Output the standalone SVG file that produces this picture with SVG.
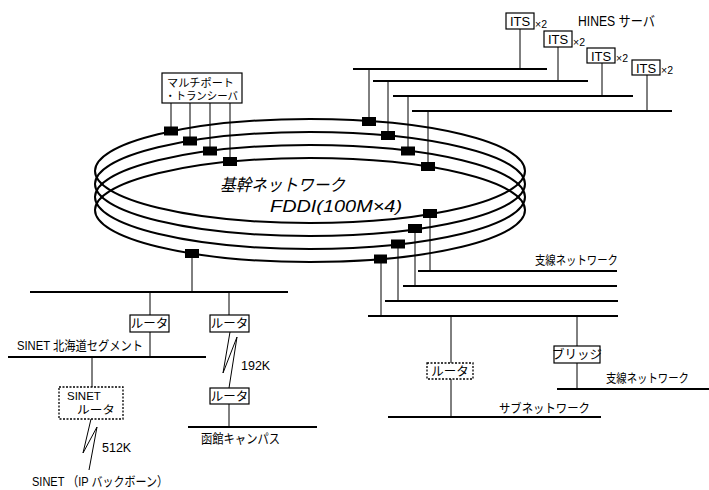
<svg xmlns="http://www.w3.org/2000/svg" width="709" height="490" viewBox="0 0 709 490">
<style>
text{font-family:"Liberation Sans","Noto Sans CJK JP",sans-serif;fill:#000}
.ring{fill:none;stroke:#000;stroke-width:2}
.bus{stroke:#000;stroke-width:2.2;fill:none}
.drop{stroke:#000;stroke-width:1;fill:none}
.tap{fill:#000}
.box{fill:#fff;stroke:#000;stroke-width:1.2}
.dbox{fill:#fff;stroke:#000;stroke-width:1.3;stroke-dasharray:2 1.5}
.lbl{font-size:12.5px}
.its{font-size:13px}
.x2{font-size:10.5px}
.c{text-anchor:middle}
.it{font-style:italic;font-size:17px}
</style>
<rect width="709" height="490" fill="#fff"/>
<g id="backbone">
<ellipse class="ring" cx="310" cy="171" rx="215" ry="52"/>
<ellipse class="ring" cx="310" cy="184" rx="215" ry="52"/>
<ellipse class="ring" cx="310" cy="197" rx="215" ry="52"/>
<ellipse class="ring" cx="310" cy="210" rx="215" ry="52"/>
<text class="it" x="220" y="191" textLength="125" lengthAdjust="spacingAndGlyphs">基幹ネットワーク</text>
<text class="it" x="270" y="212" textLength="132" lengthAdjust="spacingAndGlyphs">FDDI(100M×4)</text>
</g>
<g id="connectors">
<line class="bus" x1="353" y1="69" x2="547" y2="69"/>
<line class="bus" x1="373" y1="81" x2="588" y2="81"/>
<line class="bus" x1="393" y1="96" x2="633" y2="96"/>
<line class="bus" x1="412" y1="111" x2="672" y2="111"/>
<line class="drop" x1="520" y1="29" x2="520" y2="69"/>
<line class="drop" x1="558" y1="47" x2="558" y2="81"/>
<line class="drop" x1="602" y1="63" x2="602" y2="96"/>
<line class="drop" x1="647" y1="75" x2="647" y2="111"/>
<line class="drop" x1="369" y1="69" x2="369" y2="121"/>
<line class="drop" x1="388" y1="81" x2="388" y2="135"/>
<line class="drop" x1="408" y1="96" x2="408" y2="151"/>
<line class="drop" x1="428" y1="111" x2="428" y2="166"/>
<line class="drop" x1="171" y1="103" x2="171" y2="131"/>
<line class="drop" x1="190" y1="103" x2="190" y2="141"/>
<line class="drop" x1="210" y1="103" x2="210" y2="151"/>
<line class="drop" x1="230" y1="103" x2="230" y2="161"/>
<line class="bus" x1="418" y1="271" x2="617" y2="271"/>
<line class="bus" x1="403" y1="286" x2="617" y2="286"/>
<line class="bus" x1="385" y1="301" x2="618" y2="301"/>
<line class="bus" x1="368" y1="316" x2="618" y2="316"/>
<line class="drop" x1="430" y1="213" x2="430" y2="271"/>
<line class="drop" x1="415" y1="228" x2="415" y2="286"/>
<line class="drop" x1="398" y1="244" x2="398" y2="301"/>
<line class="drop" x1="381" y1="259" x2="381" y2="316"/>
<line class="drop" x1="451" y1="316" x2="451" y2="363"/>
<line class="drop" x1="451" y1="379" x2="451" y2="417"/>
<line class="bus" x1="388" y1="417" x2="601" y2="417"/>
<line class="drop" x1="577" y1="316" x2="577" y2="346"/>
<line class="drop" x1="577" y1="363" x2="577" y2="389"/>
<line class="bus" x1="557" y1="389" x2="709" y2="389"/>
<line class="drop" x1="192" y1="253" x2="192" y2="292"/>
<line class="bus" x1="30" y1="292" x2="288" y2="292"/>
<line class="drop" x1="150" y1="292" x2="150" y2="315"/>
<line class="drop" x1="229" y1="292" x2="229" y2="315"/>
<line class="drop" x1="150" y1="332" x2="150" y2="357"/>
<line class="bus" x1="8" y1="357" x2="206" y2="357"/>
<line class="drop" x1="92" y1="357" x2="92" y2="387"/>
<polyline class="drop" points="91,419 83,453 97,427 89,470"/>
<polyline class="drop" points="230,332 223,373 237,337 229,388"/>
<line class="drop" x1="229" y1="404" x2="229" y2="427"/>
<line class="bus" x1="188" y1="427" x2="317" y2="427"/>
</g>
<g id="taps">
<rect class="tap" x="164" y="126.5" width="14" height="9"/>
<rect class="tap" x="183" y="136.5" width="14" height="9"/>
<rect class="tap" x="203" y="146.5" width="14" height="9"/>
<rect class="tap" x="223" y="157" width="14" height="9"/>
<rect class="tap" x="362" y="117" width="14" height="9"/>
<rect class="tap" x="381" y="131" width="14" height="9"/>
<rect class="tap" x="401" y="146.5" width="14" height="9"/>
<rect class="tap" x="421" y="162" width="14" height="9"/>
<rect class="tap" x="423" y="209" width="14" height="9"/>
<rect class="tap" x="408" y="224" width="14" height="9"/>
<rect class="tap" x="391" y="239.5" width="14" height="9"/>
<rect class="tap" x="374" y="254.5" width="13" height="9"/>
<rect class="tap" x="185" y="249" width="14" height="9"/>
</g>
<g id="multiport">
<rect class="box" x="162" y="73" width="80" height="30"/>
<text x="167" y="87" font-size="11" textLength="67" lengthAdjust="spacingAndGlyphs">マルチポート</text>
<text x="165" y="99.5" font-size="11" textLength="73" lengthAdjust="spacingAndGlyphs">・トランシーバ</text>
</g>
<g id="hines">
<text x="578" y="26" font-size="14" textLength="77" lengthAdjust="spacingAndGlyphs">HINES サーバ</text>
</g>
<g id="its1"><rect class="box" x="506" y="13" width="28" height="16"/><text class="its c" x="520" y="26">ITS</text><text class="x2" x="535" y="28">×2</text></g>
<g id="its2"><rect class="box" x="544" y="31" width="28" height="16"/><text class="its c" x="558" y="44">ITS</text><text class="x2" x="573" y="46">×2</text></g>
<g id="its3"><rect class="box" x="587" y="48" width="28" height="15"/><text class="its c" x="601" y="60.5">ITS</text><text class="x2" x="616" y="62">×2</text></g>
<g id="its4"><rect class="box" x="632" y="60" width="28" height="15"/><text class="its c" x="646" y="72.5">ITS</text><text class="x2" x="661" y="74">×2</text></g>
<g id="branch-label1"><text class="lbl" x="535" y="265" textLength="83" lengthAdjust="spacingAndGlyphs">支線ネットワーク</text></g>
<g id="router-sub"><rect class="dbox" x="427" y="363" width="46" height="16"/><text class="lbl c" x="450" y="376">ルータ</text></g>
<g id="bridge"><rect class="box" x="554" y="346" width="46" height="17"/><text class="lbl c" x="577" y="359">ブリッジ</text></g>
<g id="branch-label2"><text x="606" y="383" font-size="12.5" textLength="83" lengthAdjust="spacingAndGlyphs">支線ネットワーク</text></g>
<g id="subnet-label"><text class="lbl" x="499" y="413" textLength="91" lengthAdjust="spacingAndGlyphs">サブネットワーク</text></g>
<g id="router1"><rect class="box" x="130" y="315" width="39" height="17"/><text class="lbl c" x="149.5" y="328">ルータ</text></g>
<g id="router2"><rect class="box" x="210" y="315" width="39" height="17"/><text class="lbl c" x="229.5" y="328">ルータ</text></g>
<g id="sinet-seg"><text x="17" y="350" font-size="13" textLength="126" lengthAdjust="spacingAndGlyphs">SINET 北海道セグメント</text></g>
<g id="sinet-router"><rect class="dbox" x="59" y="387" width="64" height="32"/><text x="67" y="400" font-size="11.5">SINET</text><text x="77" y="414" font-size="11.5" textLength="38" lengthAdjust="spacingAndGlyphs">ルータ</text></g>
<g id="l512"><text class="lbl" x="102" y="452">512K</text></g>
<g id="sinet-bb"><text x="32" y="486" font-size="13" textLength="136" lengthAdjust="spacingAndGlyphs">SINET （IP バックボーン）</text></g>
<g id="l192"><text class="lbl" x="241" y="370">192K</text></g>
<g id="router3"><rect class="box" x="210" y="388" width="39" height="16"/><text class="lbl c" x="229.5" y="400.5">ルータ</text></g>
<g id="hakodate"><text x="201" y="443" font-size="13" textLength="79" lengthAdjust="spacingAndGlyphs">函館キャンパス</text></g>
</svg>
